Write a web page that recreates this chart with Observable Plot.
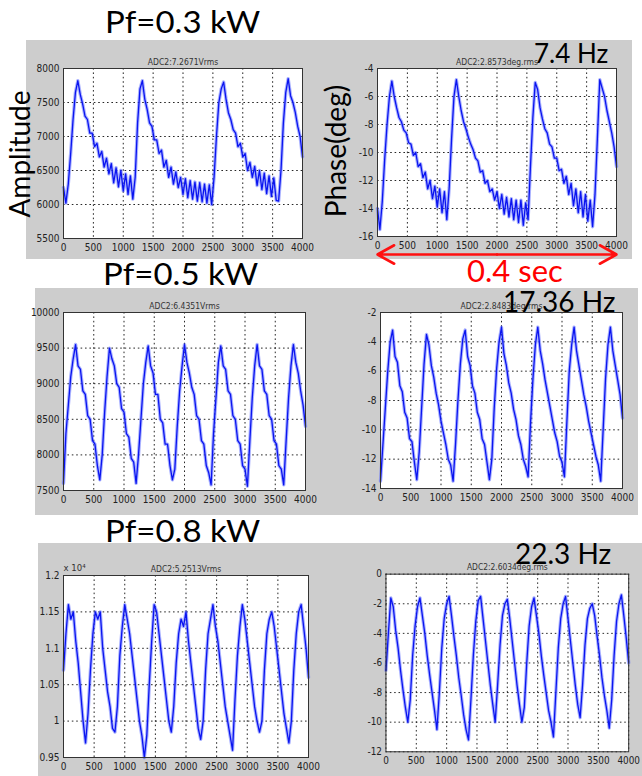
<!DOCTYPE html>
<html><head><meta charset="utf-8">
<script src="https://cdn.jsdelivr.net/npm/d3@7"></script>
<script src="https://cdn.jsdelivr.net/npm/@observablehq/plot@0.6"></script>
<style>
body{margin:0;background:#fff;}
#root{position:relative;width:642px;height:776px;overflow:hidden;background:#fff;}
.gray{position:absolute;background:#cdcdcd;}
.panel{position:absolute;}
#overlay{position:absolute;left:0;top:0;pointer-events:none;}
</style></head><body><div id="root"></div><script>
const sampleStep = 40;
const xTicks = [0, 500, 1000, 1500, 2000, 2500, 3000, 3500, 4000];

const amp03 = [
  6250, 6020, 6300, 6750, 7250, 7650, 7820, 7620, 7480, 7300,
  7250, 7050, 7050, 6850, 6900, 6700, 6780, 6550, 6680, 6450,
  6600, 6320, 6540, 6260, 6500, 6200, 6450, 6150, 6420, 6080,
  6400, 7200, 7700, 7820, 7550, 7400, 7200, 7150, 6950, 6950,
  6750, 6800, 6550, 6650, 6400, 6550, 6300, 6480, 6250, 6400,
  6150, 6380, 6100, 6350, 6080, 6330, 6050, 6320, 6040, 6300,
  6020, 6290, 6000, 6400, 7000, 7500, 7700, 7800, 7550, 7350,
  7250, 7100, 7050, 6850, 6900, 6700, 6750, 6500, 6620, 6400,
  6560, 6280, 6500, 6220, 6460, 6160, 6420, 6120, 6390, 6060,
  6050, 6500, 7200, 7650, 7850, 7600, 7500, 7350, 7150, 7000,
  6700];
const phase03 = [
  -14.0, -15.5, -13.5, -10.5, -8.0, -6.0, -4.9, -6.0, -6.8, -7.5,
  -7.8, -8.4, -8.6, -9.3, -9.4, -10.2, -10.0, -11.0, -10.8, -11.8,
  -11.4, -12.6, -12.0, -13.3, -12.4, -13.9, -12.6, -14.3, -12.8, -14.8,
  -12.5, -9.0, -6.0, -4.8, -6.0, -7.0, -7.8, -8.3, -8.9, -9.4,
  -9.8, -10.4, -10.6, -11.4, -11.3, -12.2, -12.0, -12.8, -12.6, -13.4,
  -12.8, -14.0, -13.0, -14.4, -13.2, -14.6, -13.3, -14.8, -13.4, -15.0,
  -13.4, -15.2, -13.6, -14.8, -11.0, -7.5, -5.0, -5.5, -6.8, -7.6,
  -8.3, -8.6, -9.4, -9.6, -10.4, -10.4, -11.3, -11.2, -12.2, -11.7,
  -13.0, -12.2, -13.8, -12.6, -14.3, -12.8, -14.6, -13.0, -14.9, -13.4,
  -15.3, -13.0, -9.0, -4.8, -5.4, -6.0, -7.0, -7.8, -8.6, -9.6,
  -11.0];
const amp05 = [
  7600, 8300, 8700, 9100, 9350, 9550, 9250, 9200, 8900, 8850,
  8550, 8500, 8200, 8150, 7850, 7650, 8000, 8600, 9100, 9500,
  9350, 9250, 9000, 8950, 8650, 8600, 8300, 8250, 7950, 7900,
  7600, 8000, 8500, 9000, 9300, 9530, 9250, 9150, 8850, 8850,
  8500, 8450, 8150, 8150, 7850, 7650, 7800, 8400, 8900, 9250,
  9550, 9300, 9150, 8950, 8850, 8550, 8500, 8200, 8150, 7850,
  7750, 7580, 8300, 8800, 9300, 9530, 9250, 9200, 8900, 8850,
  8550, 8500, 8200, 8150, 7850, 7800, 7560, 8200, 8800, 9250,
  9550, 9250, 9200, 8900, 8850, 8550, 8500, 8200, 8150, 7850,
  7800, 7580, 8200, 8800, 9250, 9550, 9300, 9150, 8900, 8700,
  8400];
const phase05 = [
  -13.5, -11.0, -8.5, -6.0, -4.0, -3.2, -5.0, -5.4, -7.0, -7.4,
  -8.8, -9.2, -10.6, -10.8, -12.2, -13.4, -11.5, -8.5, -5.5, -3.5,
  -4.2, -5.6, -6.4, -7.5, -8.3, -9.4, -10.2, -11.0, -12.0, -12.4,
  -13.5, -11.0, -8.0, -5.5, -3.8, -3.2, -5.0, -5.6, -7.0, -7.5,
  -8.8, -9.3, -10.6, -11.0, -12.2, -13.4, -12.0, -8.5, -5.8, -4.0,
  -3.0, -4.8, -5.6, -6.8, -7.5, -8.6, -9.3, -10.4, -11.0, -12.0,
  -12.5, -13.2, -9.5, -6.5, -4.2, -3.0, -4.6, -5.5, -6.6, -7.5,
  -8.4, -9.3, -10.2, -10.8, -11.8, -12.2, -13.2, -9.5, -6.0, -4.2,
  -3.0, -4.6, -5.6, -6.6, -7.6, -8.4, -9.4, -10.2, -11.0, -11.8,
  -12.4, -13.5, -10.0, -6.5, -4.2, -3.0, -4.6, -5.6, -6.6, -7.6,
  -9.2];
const amp08 = [ // x 10^4
  1.07, 1.12, 1.16, 1.14, 1.15, 1.11, 1.08, 1.04, 1.00, 0.97,
  1.01, 1.07, 1.12, 1.15, 1.14, 1.15, 1.10, 1.07, 1.04, 1.02,
  0.99, 0.985, 1.02, 1.09, 1.13, 1.16, 1.14, 1.12, 1.09, 1.06,
  1.03, 1.00, 0.98, 0.95, 0.98, 1.05, 1.11, 1.16, 1.15, 1.12,
  1.09, 1.06, 1.03, 1.00, 0.985, 1.02, 1.08, 1.12, 1.14, 1.13,
  1.15, 1.11, 1.08, 1.05, 1.02, 0.99, 0.975, 1.00, 1.07, 1.12,
  1.14, 1.16, 1.13, 1.11, 1.08, 1.05, 1.02, 1.00, 0.98, 0.96,
  1.03, 1.09, 1.13, 1.16, 1.14, 1.11, 1.08, 1.05, 1.02, 1.00,
  0.985, 1.00, 1.07, 1.12, 1.14, 1.15, 1.13, 1.10, 1.07, 1.04,
  1.01, 0.99, 0.97, 1.00, 1.07, 1.12, 1.15, 1.16, 1.13, 1.10,
  1.06];
const phase08 = [
  -6.5, -4.0, -1.6, -2.2, -3.8, -5.0, -6.5, -7.8, -9.0, -10.0,
  -8.5, -5.5, -3.5, -2.2, -1.6, -2.8, -4.0, -5.5, -6.8, -8.0,
  -9.2, -10.5, -8.0, -5.0, -3.0, -2.0, -1.5, -2.8, -4.2, -5.5,
  -7.0, -8.2, -9.5, -10.5, -11.2, -8.5, -5.5, -3.2, -1.8, -1.5,
  -3.0, -4.5, -6.0, -7.5, -8.8, -10.0, -7.5, -4.8, -2.8, -2.0,
  -1.7, -3.0, -4.5, -6.0, -7.5, -8.8, -10.0, -9.0, -6.0, -3.5,
  -2.2, -1.6, -2.8, -4.0, -5.5, -6.8, -8.0, -9.2, -10.0, -11.0,
  -8.0, -5.0, -3.0, -2.0, -1.5, -3.0, -4.5, -6.0, -7.5, -8.8,
  -9.7, -7.5, -4.8, -3.0, -2.3, -2.0, -2.8, -4.2, -5.5, -7.0,
  -8.2, -9.2, -10.4, -8.5, -5.5, -3.2, -2.0, -1.4, -2.8, -4.3,
  -6.0];

const yTicksAmp03 = [5500, 6000, 6500, 7000, 7500, 8000];
const yTicksPhase03 = [-16, -14, -12, -10, -8, -6, -4];
const yTicksAmp05 = [7500, 8000, 8500, 9000, 9500, 10000];
const yTicksPhase05 = [-14, -12, -10, -8, -6, -4, -2];
const yTicksAmp08 = [0.95, 1, 1.05, 1.1, 1.15, 1.2];
const yTicksPhase08 = [-12, -10, -8, -6, -4, -2, 0];

const subtitles = ["ADC2:7.2671Vrms", "ADC2:2.8573deg.rms", "ADC2:6.4351Vrms",
                   "ADC2:2.8483deg.rms", "ADC2:5.2513Vrms", "ADC2:2.6034deg.rms"];
const powerLabels = ["Pf=0.3 kW", "Pf=0.5 kW", "Pf=0.8 kW"];
const freqLabels = ["7.4 Hz", "17.36 Hz", "22.3 Hz"];

// ---- layout ----
const root = document.getElementById("root");
const grays = [[26, 40, 606, 219], [35, 288, 603, 227], [38, 543, 604, 233]];
for (const [l, t, w, h] of grays) {
  const d = document.createElement("div");
  d.className = "gray";
  Object.assign(d.style, {left: l + "px", top: t + "px", width: w + "px", height: h + "px"});
  root.appendChild(d);
}

const panels = [
  {values: amp03, yDomain: [5500, 8000], yTicks: yTicksAmp03, title: subtitles[0], rect: [63, 302, 68, 238]},
  {values: phase03, yDomain: [-16, -4], yTicks: yTicksPhase03, title: subtitles[1], rect: [377, 616, 68, 236], arrow: true},
  {values: amp05, yDomain: [7500, 10000], yTicks: yTicksAmp05, title: subtitles[2], rect: [63, 305, 312, 490]},
  {values: phase05, yDomain: [-14, -2], yTicks: yTicksPhase05, title: subtitles[3], rect: [380, 622, 312, 488]},
  {values: amp08, yDomain: [0.95, 1.2], yTicks: yTicksAmp08, title: subtitles[4], rect: [63, 308, 575, 757], exp: true},
  {values: phase08, yDomain: [-12, 0], yTicks: yTicksPhase08, title: subtitles[5], rect: [386, 632, 574, 754]}
];

const mL = 40, mR = 14, mT = 24, mB = 20;
const tickFont = "'Liberation Sans Narrow','DejaVu Sans Condensed','Arial Narrow',sans-serif";

for (const p of panels) {
  const [x0, x1, y0, y1] = p.rect;
  const data = p.values.map((v, i) => ({t: i * sampleStep, v}));
  const marks = [
    Plot.frame({fill: "white"}),
    Plot.gridX(xTicks, {stroke: "#000", strokeOpacity: 0.85, strokeDasharray: "1.6,2.8"}),
    Plot.gridY(p.yTicks, {stroke: "#000", strokeOpacity: 0.85, strokeDasharray: "1.6,2.8"}),
    Plot.line(data, {x: "t", y: "v", stroke: "#5566ff", strokeWidth: 3.4, strokeOpacity: 0.5}),
    Plot.line(data, {x: "t", y: "v", stroke: "#0a14f0", strokeWidth: 1.3}),
    Plot.frame({stroke: "#333", strokeWidth: 1}),
    Plot.text([p.title], {frameAnchor: "top", dy: -10, text: d => d, fontSize: 8.5, fill: "#333", fontFamily: tickFont})
  ];
  if (p.exp) {
    marks.push(Plot.text(["x 10⁴"], {frameAnchor: "top-left", dy: -11, dx: 0, text: d => d, fontSize: 9.5, fill: "#333", textAnchor: "start", fontFamily: tickFont}));
  }
  if (p.arrow) {
    const yb = p.yDomain[0];
    const mid = (xTicks[0] + xTicks[xTicks.length - 1]) / 2;
    marks.push(Plot.arrow([{a: mid, b: xTicks[0]}, {a: mid, b: xTicks[xTicks.length - 1]}],
      {x1: "a", x2: "b", y1: () => yb, y2: () => yb, dy: 18, stroke: "#ff1010", strokeWidth: 2.6, headLength: 11, headAngle: 58}));
  }
  const fmt = p.exp ? (d => String(+d.toFixed(2))) : (d => String(d));
  const chart = Plot.plot({
    width: (x1 - x0) + mL + mR,
    height: (y1 - y0) + mT + mB,
    marginLeft: mL, marginRight: mR, marginTop: mT, marginBottom: mB,
    style: {background: "transparent", fontFamily: tickFont, fontSize: "10px", color: "#222", overflow: "visible"},
    x: {domain: [0, 4000], ticks: xTicks, tickFormat: d => String(d), tickSize: 0, tickPadding: 5, label: null},
    y: {domain: p.yDomain, ticks: p.yTicks, tickFormat: fmt, tickSize: 0, tickPadding: 4, label: null},
    marks
  });
  const wrap = document.createElement("div");
  wrap.className = "panel";
  wrap.style.left = (x0 - mL) + "px";
  wrap.style.top = (y0 - mT) + "px";
  wrap.appendChild(chart);
  root.appendChild(wrap);
}

// ---- big annotation texts ----
const svg = d3.select(root).append("svg").attr("id", "overlay")
  .attr("width", 642).attr("height", 776)
  .style("font-family", "Lato,'Open Sans',sans-serif");
const pfPos = [[105, 33], [103, 285], [105, 542]];
powerLabels.forEach((t, i) => {
  svg.append("text").attr("transform", `translate(${pfPos[i][0]},${pfPos[i][1]}) scale(1.1,1)`)
    .attr("font-size", 30).attr("fill", "#000").text(t);
});
const hzPos = [[534, 63, 26], [503, 312, 28], [515, 564, 28]];
freqLabels.forEach((t, i) => {
  svg.append("text").attr("x", hzPos[i][0]).attr("y", hzPos[i][1])
    .attr("font-size", hzPos[i][2]).attr("fill", "#000").text(t);
});
svg.append("text").attr("transform", "translate(30,154) rotate(-90)")
  .attr("text-anchor", "middle").attr("font-size", 28).attr("fill", "#000").text("Amplitude");
svg.append("text").attr("transform", "translate(346,151) rotate(-90)")
  .attr("text-anchor", "middle").attr("font-size", 28).attr("fill", "#000").text("Phase(deg)");
svg.append("text").attr("x", 467).attr("y", 282).attr("font-size", 31).attr("fill", "#ff0000").text("0.4 sec");
</script></body></html>
